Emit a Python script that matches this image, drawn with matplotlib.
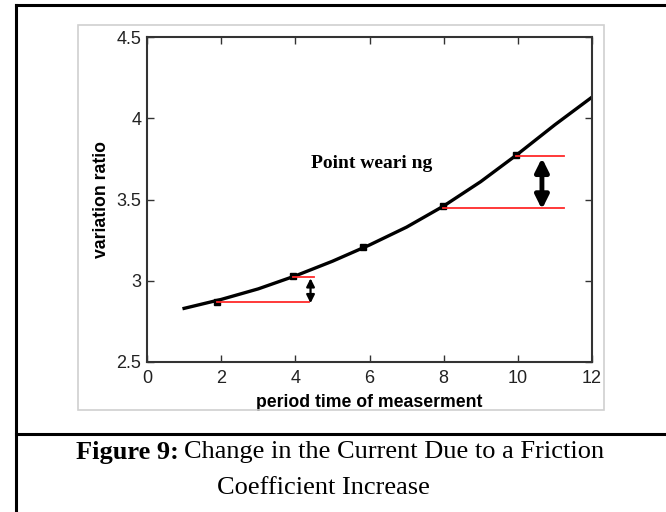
import matplotlib
matplotlib.use('Agg')
from matplotlib import pyplot as plt
from matplotlib.lines import Line2D
from matplotlib.patches import Rectangle

# curve
period = [1, 2, 3, 4, 5, 6, 7, 8, 9, 10, 11, 12]
ratio = [2.83, 2.885, 2.95, 3.03, 3.12, 3.22, 3.33, 3.46, 3.61, 3.78, 3.96, 4.13]

# measured points on the curve
mark_x = [1.88, 3.95, 5.82, 7.98, 9.96]
mark_y = [2.872, 3.03, 3.205, 3.46, 3.775]

# red reference lines (y, x start, x end)
ref_y = [2.867, 3.021, 3.448, 3.77]
ref_x0 = [1.88, 3.95, 7.98, 9.96]
ref_x1 = [4.38, 4.5, 11.25, 11.25]

xticks = [0, 2, 4, 6, 8, 10, 12]
yticks = [2.5, 3, 3.5, 4, 4.5]
ytick_labels = ['2.5', '3', '3.5', '4', '4.5']

sans = ['Liberation Sans', 'DejaVu Sans']
serif = ['Liberation Serif', 'DejaVu Serif']

fig = plt.figure(figsize=(6.66, 5.12), dpi=100)
W, H = 666.0, 512.0

# page frame around the figure
fig.add_artist(Line2D([16 / W, 16 / W], [0, 1 - 5 / H], color='black', lw=2.2,
                      transform=fig.transFigure))
fig.add_artist(Line2D([16 / W, 1], [1 - 5 / H, 1 - 5 / H], color='black', lw=2.2,
                      transform=fig.transFigure))
fig.add_artist(Line2D([16 / W, 1], [1 - 434 / H, 1 - 434 / H], color='black', lw=2.2,
                      transform=fig.transFigure))
# light gray box round the plot
fig.add_artist(Rectangle((78 / W, 1 - 410 / H), 526 / W, 385 / H, fill=False,
                         edgecolor='#d0d0d0', lw=1.2, transform=fig.transFigure))

ax = fig.add_axes([147 / W, 1 - 362 / H, 445 / W, 325 / H])
ax.plot(period, ratio, color='black', lw=2.4)
ax.plot(mark_x, mark_y, 's', color='black', ms=5)
for y, x0, x1 in zip(ref_y, ref_x0, ref_x1):
    ax.plot([x0, x1], [y, y], color='#ff2a2a', lw=1.3)

ax.annotate('', xy=(4.41, 2.862), xytext=(4.41, 3.015),
            arrowprops=dict(arrowstyle='<|-|>', color='black', lw=1.6,
                            mutation_scale=12, shrinkA=0, shrinkB=0))
ax.annotate('', xy=(10.65, 3.44), xytext=(10.65, 3.755),
            arrowprops=dict(arrowstyle='<|-|>', color='black', lw=3.5,
                            mutation_scale=20, shrinkA=0, shrinkB=0))

ax.text(4.42, 3.72, 'Point weari ng', family=serif, fontweight='bold', fontsize=14,
        va='center', ha='left')

ax.set_xlim(0, 12)
ax.set_ylim(2.5, 4.5)
ax.set_xticks(xticks)
ax.set_yticks(yticks)
ax.set_xticklabels([str(t) for t in xticks], family=sans, fontsize=13, color='#222222')
ax.set_yticklabels(ytick_labels, family=sans, fontsize=13, color='#222222')
ax.tick_params(direction='in', length=5, top=True, right=True, width=1, color='#333333',
               pad=4)
ax.tick_params(axis='x', pad=6)
for s in ax.spines.values():
    s.set_linewidth(1.5)
    s.set_color('#333333')

ax.set_xlabel('period time of measerment', family=sans, fontweight='bold', fontsize=12.7,
              labelpad=5)
ax.set_ylabel('variation ratio', family=sans, fontweight='bold', fontsize=12.7,
              labelpad=5)

# caption below the figure: bold label followed by plain text
cap_size = 19
fig.canvas.draw()
r = fig.canvas.get_renderer()
lab = fig.text(76 / W, 1 - 452 / H, 'Figure 9:', family=serif, fontweight='bold',
               fontsize=cap_size, va='center', ha='left')
bb = lab.get_window_extent(renderer=r)
fig.text(bb.x1 / W + 5 / W, 1 - 452 / H, 'Change in the Current Due to a Friction',
         family=serif, fontsize=cap_size, va='center', ha='left')
fig.text(217 / W, 1 - 488 / H, 'Coefficient Increase', family=serif, fontsize=cap_size,
         va='center', ha='left')

fig.savefig('out.png', dpi=100)
